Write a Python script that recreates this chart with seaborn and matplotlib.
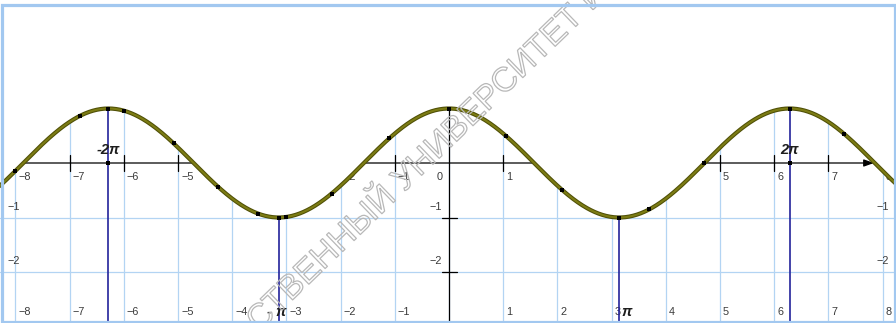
import numpy as np
import matplotlib
matplotlib.use("Agg")
import matplotlib.pyplot as plt
import matplotlib.patheffects as pe
from matplotlib.patches import Rectangle
from matplotlib.transforms import IdentityTransform
import seaborn as sns

# ---------------- data ----------------
x_ticks = [-8, -7, -6, -5, -4, -3, -2, -1, 0, 1, 2, 3, 4, 5, 6, 7, 8]
x_tick_labels = ["−8", "−7", "−6", "−5", "−4", "−3", "−2", "−1", "0",
                 "1", "2", "3", "4", "5", "6", "7", "8"]
y_ticks = [-1, -2]
y_tick_labels = ["−1", "−2"]

# marked points on y = cos x
dot_x = [-8.0, -6.81, -6.283, -6.0, -5.08, -4.26, -3.52, -3.1416, -3.0,
         -2.16, -1.1, 0.0, 1.06, 2.08, 3.1416, 3.69, 4.71, 6.283, 7.29]
dot_y = [-0.15, 0.87, 1.0, 0.96, 0.36, -0.44, -0.93, -1.0, -0.99,
         -0.56, 0.45, 1.0, 0.49, -0.49, -1.0, -0.85, 0.0, 1.0, 0.53]

# multiples of pi marked with vertical lines
pi_marks = [-2 * np.pi, -np.pi, np.pi, 2 * np.pi]
pi_mark_tops = [1.0, -1.0, -1.0, 1.0]
axis_dot_x = [-2 * np.pi, 2 * np.pi]
axis_dot_y = [0.0, 0.0]

# the graph itself: y = cos x
curve_x = np.linspace(-8.5, 8.5, 1200)
curve_y = np.cos(curve_x)

watermark = "СТВЕННЫЙ УНИВЕРСИТЕТ ИМЕНИ"

# ---------------- layout ----------------
W, H, DPI = 896, 323, 100
OX, OY = 449.0, 163.0          # pixel position of the origin
SX, SY = 54.2, 54.5            # pixels per unit


def px_x(p):
    return (p - OX) / SX


def px_y(p):
    return (OY - p) / SY


sns.set_theme(style="white")
plt.rcParams["font.family"] = ["Liberation Sans", "DejaVu Sans"]

fig = plt.figure(figsize=(W / DPI, H / DPI), dpi=DPI)
ax = fig.add_axes([0, 0, 1, 1])
ax.set_xlim(px_x(0), px_x(W))
ax.set_ylim(px_y(H), px_y(0))
ax.axis("off")

grid_c = "#b3d4f3"
num_c = "#3a3a3a"
num_fs = 7.8

# grid
for t in x_ticks:
    ax.axvline(t, color=grid_c, lw=0.9, zorder=1)
for t in y_ticks:
    ax.axhline(t, color=grid_c, lw=0.9, zorder=1)

# x axis with arrow, y axis
ax.annotate("", xy=(7.84, 0), xytext=(px_x(0), 0),
            arrowprops=dict(arrowstyle="-|>,head_length=0.5,head_width=0.18",
                            color="black", lw=0.9, shrinkA=0, shrinkB=0),
            zorder=2)
ax.plot([0, 0], [px_y(H), 1.05], color="black", lw=0.9, zorder=2)

tick_half = 8 / SY
for t in x_ticks:
    if t != 0:
        ax.plot([t, t], [-tick_half, tick_half], color="black", lw=0.9, zorder=2)
for t in y_ticks:
    ax.plot([-7.5 / SX, 7.5 / SX], [t, t], color="black", lw=0.9, zorder=2)

# numbers under the x axis
for t, lab in zip(x_ticks, x_tick_labels):
    if t == 0:
        ax.text(-6 / SX, -14 / SY, lab, ha="right", va="center",
                fontsize=num_fs, color=num_c, zorder=2)
    else:
        ax.text(t + 3 / SX, -14 / SY, lab, ha="left", va="center",
                fontsize=num_fs, color=num_c, zorder=2)

# numbers along the bottom edge
for t, lab in zip(x_ticks, x_tick_labels):
    if t != 0:
        ax.text(t + 3 / SX, px_y(312), lab, ha="left", va="center",
                fontsize=num_fs, color=num_c, zorder=2)

# numbers on the y axis and on both side edges
for t, lab in zip(y_ticks, y_tick_labels):
    yy = t + 10.5 / SY
    ax.text(-7 / SX, yy, lab, ha="right", va="center",
            fontsize=num_fs, color=num_c, zorder=2)
    ax.text(px_x(7), yy, lab, ha="left", va="center",
            fontsize=num_fs, color=num_c, zorder=2)
    ax.text(px_x(889), yy, lab, ha="right", va="center",
            fontsize=num_fs, color=num_c, zorder=2)

# white area above the graph
ax.fill_between(curve_x, curve_y, px_y(-5), color="white", lw=0, zorder=3)

# vertical lines at multiples of pi
for xm, top in zip(pi_marks, pi_mark_tops):
    ax.plot([xm, xm], [px_y(H + 5), top], color="#23239b", lw=1.2, zorder=4)

# curve
sns.lineplot(x=curve_x, y=curve_y, ax=ax, color="#4f4f06", lw=3.0,
             zorder=5, legend=False)
sns.lineplot(x=curve_x, y=curve_y, ax=ax, color="#7c7c14", lw=1.5,
             zorder=5, legend=False)

# points
sns.scatterplot(x=dot_x, y=dot_y, ax=ax, marker="s", s=7, color="black",
                linewidth=0, zorder=6, legend=False)
sns.scatterplot(x=axis_dot_x, y=axis_dot_y, ax=ax, marker="s", s=7,
                color="black", linewidth=0, zorder=6, legend=False)

# pi captions
pi_font = dict(fontsize=10.5, fontweight="bold", fontstyle="italic",
               color="#1e1e1e", zorder=7)
ax.text(-2 * np.pi, 13 / SY, "-2π", ha="center", va="center", **pi_font)
ax.text(2 * np.pi, 13 / SY, "2π", ha="center", va="center", **pi_font)
ax.text(px_x(276.5), px_y(312), "- π", ha="center", va="center", **pi_font)
ax.text(px_x(622), px_y(312), "π", ha="left", va="center", **pi_font)

# outlined watermark running diagonally
renderer = fig.canvas.get_renderer()
probe = fig.text(0, 0, "СТВЕННЫЙ УНИВЕРСИТЕТ", fontsize=24,
                 family="Liberation Sans")
w24 = probe.get_window_extent(renderer).width
probe.remove()
wm_fs = 24 * 453 / w24
probe = fig.text(0, 0, "СТВЕННЫЙ УНИВЕРСИТЕТ", fontsize=wm_fs,
                 family="Liberation Sans")
wlen = probe.get_window_extent(renderer).width
probe.remove()
ang = 44.0
cx, cy = 413.0, H - 167.0
sx = cx - wlen / 2 * np.cos(np.radians(ang))
sy = cy - wlen / 2 * np.sin(np.radians(ang))
fig.text(sx, sy, watermark, transform=IdentityTransform(),
         fontsize=wm_fs, family="Liberation Sans", color=(1, 1, 1, 0),
         rotation=ang, rotation_mode="anchor", ha="left",
         va="center_baseline", zorder=20,
         path_effects=[pe.Stroke(linewidth=0.9, foreground="#b8b8b8")])

# light blue frame
fig.add_artist(Rectangle((1.5 / W, 1.5 / H), 893 / W, 317 / H,
                         transform=fig.transFigure, fill=False,
                         ec="#a2c8f0", lw=2.3, zorder=30))

fig.savefig("out.png", dpi=DPI)
